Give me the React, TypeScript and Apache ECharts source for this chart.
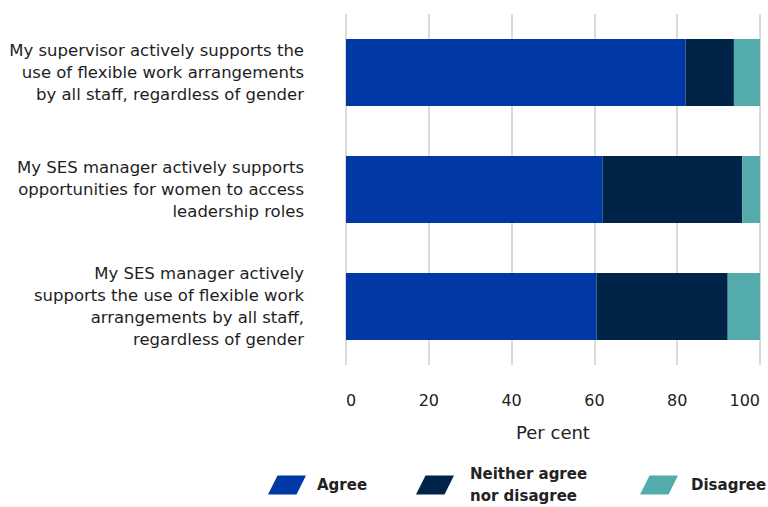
import { useEffect, useRef } from "react";
import * as echarts from "echarts";

const statements = [
  "My supervisor actively supports the\nuse of flexible work arrangements\nby all staff, regardless of gender",
  "My SES manager actively supports\nopportunities for women to access\nleadership roles",
  "My SES manager actively\nsupports the use of flexible work\narrangements by all staff,\nregardless of gender",
];
const agree = [82, 62, 60.5];
const neither = [11.7, 33.7, 31.7];
const disagree = [6.3, 4.3, 7.8];
const seriesNames = ["Agree", "Neither agree\nnor disagree", "Disagree"];
const colors = ["#0039a6", "#002448", "#54abab"];

const FONT = "DejaVu Sans";
const ICON = "path://M10,0 L40,0 L30,20 L0,20 Z";

const App = () => {
  const ref = useRef<HTMLDivElement | null>(null);

  useEffect(() => {
    if (!ref.current) return;
    const chart = echarts.init(ref.current, undefined, { renderer: "svg" });
    const values = [agree, neither, disagree];
    const legendLeft = [268, 416, 640];
    const legendTop = [474, 463, 474];
    const textGap = [6, 11, 8];

    chart.setOption({
      animation: false,
      textStyle: { fontFamily: FONT },
      grid: { left: 346, right: 8, top: 14, bottom: 142, outerBoundsMode: "none", containLabel: false },
      xAxis: {
        type: "value",
        min: 0,
        max: 100,
        interval: 20,
        name: "Per cent",
        nameLocation: "middle",
        nameGap: 58,
        nameTextStyle: { fontSize: 18, color: "#222", fontFamily: FONT },
        axisLine: { show: false },
        axisTick: { show: false },
        axisLabel: {
          fontSize: 16,
          color: "#222",
          margin: 27,
          alignMinLabel: "left",
          alignMaxLabel: "right",
        },
        splitLine: { lineStyle: { color: "#cfcfcf", width: 1.5 } },
      },
      yAxis: {
        type: "category",
        inverse: true,
        data: statements,
        axisLine: { show: false },
        axisTick: { show: false },
        axisLabel: {
          fontSize: 16.5,
          color: "#1e1e1e",
          lineHeight: 22,
          margin: 42,
          align: "right",
          padding: [0, 0, 5, 0],
        },
      },
      legend: seriesNames.map((name, i) => ({
        data: [name],
        left: legendLeft[i],
        top: legendTop[i],
        padding: 0,
        icon: ICON,
        itemWidth: 38,
        itemHeight: 19,
        itemGap: 0,
        textStyle: {
          fontSize: 15,
          fontWeight: "bold",
          color: "#222",
          lineHeight: 22,
          padding: [0, 0, 0, textGap[i]],
        },
      })),
      series: seriesNames.map((name, i) => ({
        name,
        type: "bar",
        stack: "total",
        barWidth: 67,
        itemStyle: { color: colors[i] },
        data: values[i],
      })),
    });

    const handleResize = () => chart.resize();
    window.addEventListener("resize", handleResize);
    return () => {
      window.removeEventListener("resize", handleResize);
      chart.dispose();
    };
  }, []);

  return (
    <div
      ref={ref}
      style={{ position: "fixed", left: 0, top: 0, width: 768, height: 507, background: "#fff" }}
    />
  );
};

export default App;
